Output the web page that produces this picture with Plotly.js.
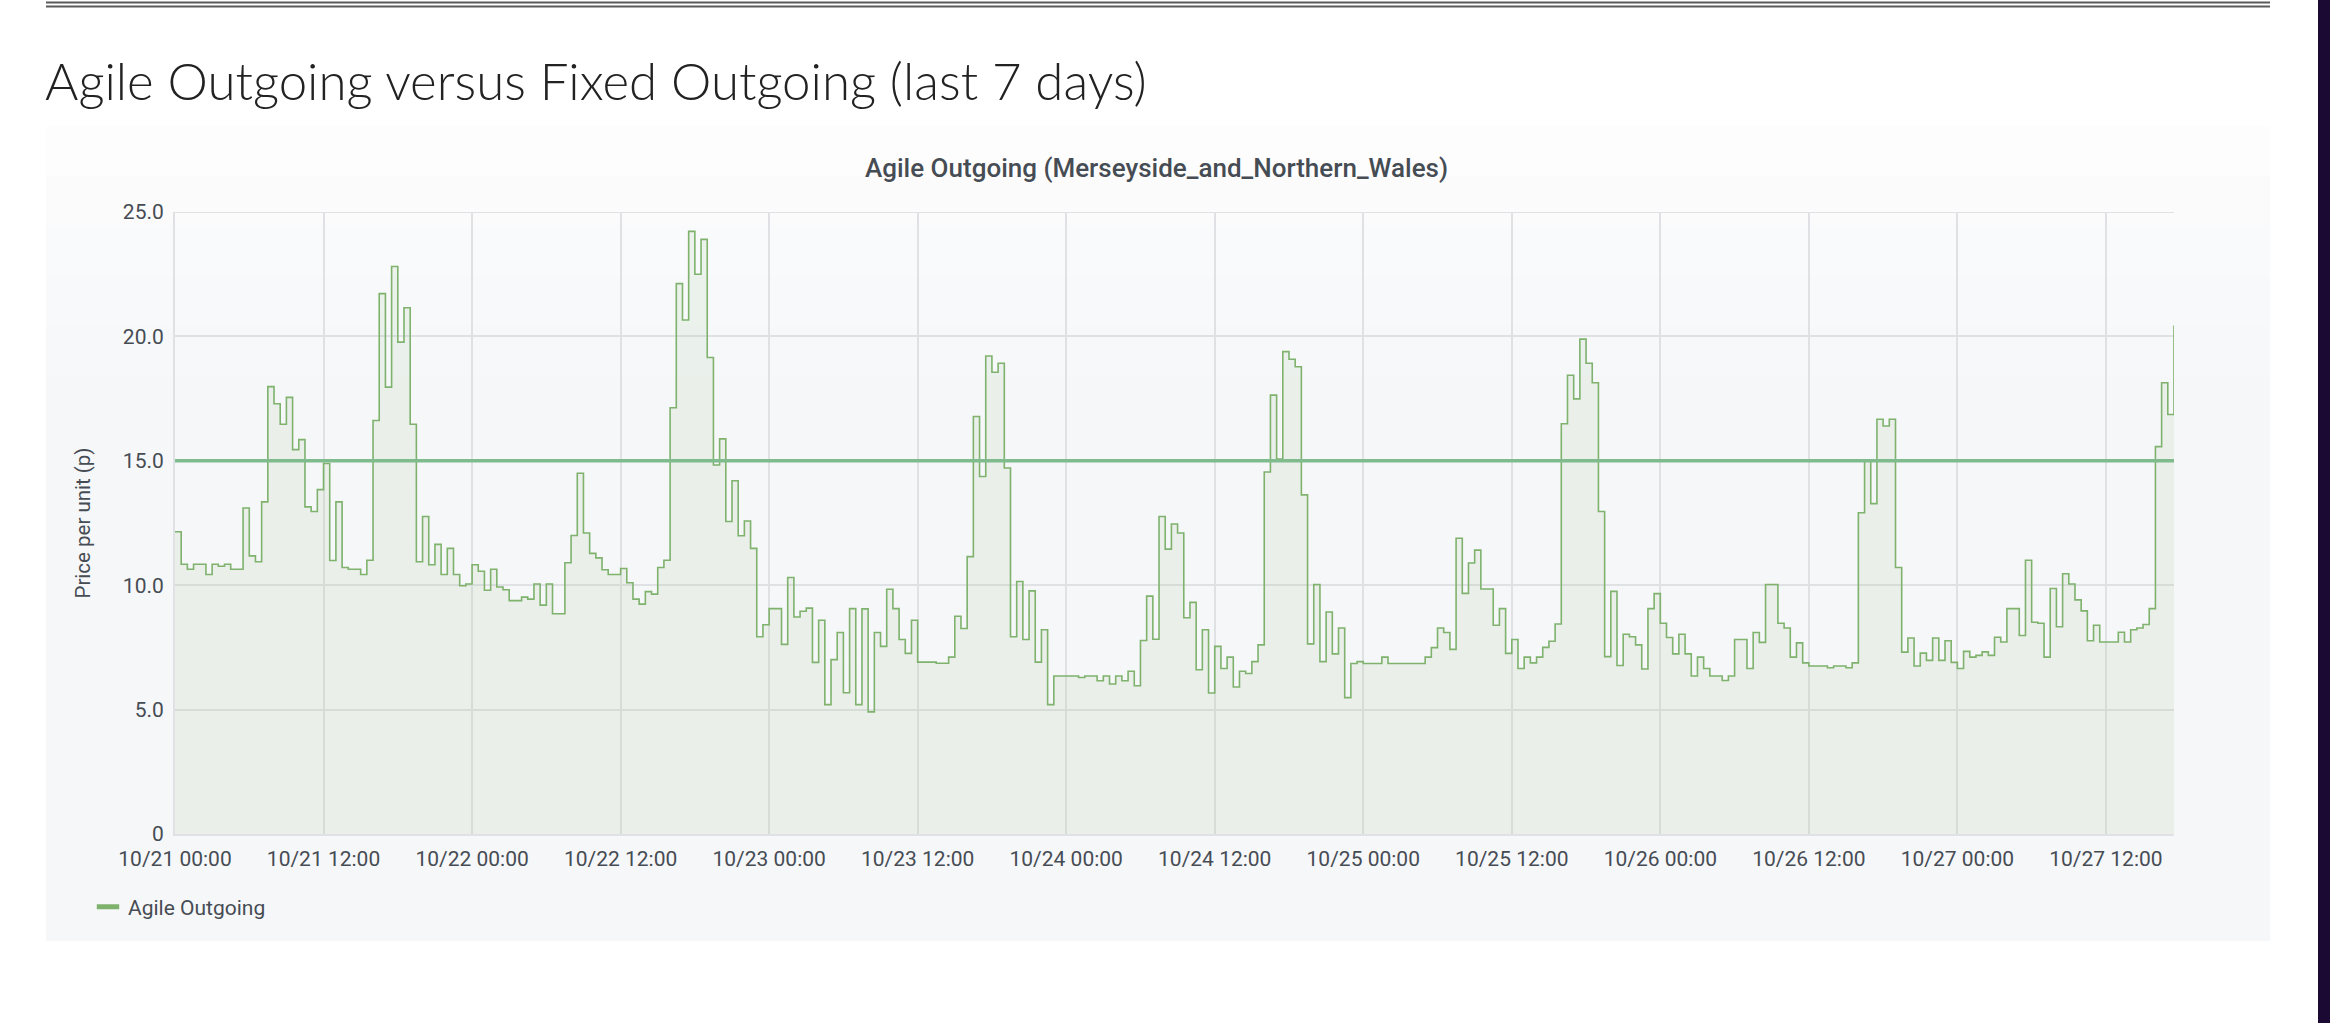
<!DOCTYPE html>
<html>
<head>
<meta charset="utf-8">
<script src="https://cdn.plot.ly/plotly-3.0.1.min.js"></script>
<style>
  html, body { margin: 0; padding: 0; background: #ffffff; }
  #chart { width: 2330px; height: 1023px; }
</style>
</head>
<body>
<div id="chart"></div>
<script>
// ---- data (half-hourly Agile Outgoing price, p per unit) ----
const startTime = '2023-10-21 00:00';
const stepMinutes = 30;
const day1 = [12.15,10.84,10.64,10.84,10.84,10.43,10.84,10.76,10.84,10.64,10.64,13.10,
              11.18,10.94,13.35,17.98,17.29,16.47,17.55,15.45,15.85,13.15,12.96,13.84,
              14.89,10.99,13.35,10.71,10.64,10.64,10.43,11.00,16.62,21.72,17.96,22.81,
              19.77,21.15,16.47,10.94,12.76,10.82,11.64,10.43,11.48,10.43,9.98,10.05];
const day2 = [10.82,10.56,9.80,10.64,9.93,9.82,9.38,9.38,9.52,9.44,10.05,9.20,
              10.05,8.85,8.85,10.90,12.00,14.50,12.10,11.28,11.10,10.62,10.43,10.43,
              10.67,10.10,9.44,9.24,9.74,9.64,10.71,11.00,17.13,22.12,20.66,24.22,
              22.50,23.90,19.15,14.83,15.88,12.56,14.20,11.99,12.58,11.48,7.93,8.41];
const day3 = [9.06,9.06,7.62,10.31,8.72,8.95,9.08,6.90,8.59,5.20,7.01,8.10,
              5.68,9.06,5.20,9.05,4.91,8.10,7.54,9.84,9.06,7.82,7.26,8.59,
              6.91,6.91,6.91,6.86,6.86,7.11,8.75,8.26,11.15,16.78,14.37,19.21,
              18.56,18.92,14.71,7.93,10.15,7.82,9.77,6.91,8.21,5.20,6.35,6.35];
const day4 = [6.35,6.35,6.29,6.35,6.35,6.16,6.35,6.03,6.35,6.16,6.54,5.96,
              7.78,9.56,7.83,12.76,11.45,12.46,12.10,8.69,9.31,6.60,8.21,5.67,
              7.54,6.65,7.11,5.91,6.54,6.45,6.93,7.60,14.55,17.64,15.07,19.39,
              19.08,18.78,13.63,7.64,10.03,6.93,8.92,7.24,8.28,5.48,6.85,6.93];
const day5 = [6.85,6.85,6.85,7.11,6.85,6.85,6.85,6.85,6.85,6.85,7.11,7.49,
              8.28,8.10,7.42,11.89,9.67,10.89,11.41,9.85,9.85,8.39,9.06,7.26,
              7.82,6.65,7.11,6.88,7.11,7.50,7.75,8.44,16.49,18.44,17.49,19.89,
              18.92,18.14,12.96,7.13,9.75,6.77,8.03,7.93,7.60,6.63,9.06,9.66];
const day6 = [8.47,7.90,7.24,8.03,7.24,6.35,7.11,6.65,6.35,6.35,6.17,6.35,
              7.82,7.82,6.65,8.10,7.70,10.03,10.03,8.47,8.28,7.11,7.68,6.88,
              6.75,6.75,6.75,6.68,6.75,6.75,6.68,6.88,12.91,15.04,13.28,16.67,
              16.40,16.67,10.71,7.31,7.88,6.75,7.27,6.98,7.88,6.98,7.77,6.90];
const day7 = [6.65,7.34,7.11,7.18,7.32,7.18,7.91,7.72,9.06,9.06,7.98,11.00,
              8.51,8.47,7.11,9.87,8.33,10.46,10.05,9.41,8.97,7.77,8.39,7.72,
              7.72,7.72,8.11,7.72,8.21,8.28,8.42,9.06,15.57,18.14,16.86,20.44];
const fixedOutgoing = 15.0;
const seriesName = 'Agile Outgoing';
const yTickVals = [0, 5, 10, 15, 20, 25];
const yTickText = ['0', '5.0', '10.0', '15.0', '20.0', '25.0'];

const agile = [].concat(day1, day2, day3, day4, day5, day6, day7);
const t0 = new Date(startTime.replace(' ', 'T') + ':00Z').getTime();
function fmt(ms) {
  const d = new Date(ms);
  const p = n => String(n).padStart(2, '0');
  return d.getUTCFullYear() + '-' + p(d.getUTCMonth() + 1) + '-' + p(d.getUTCDate()) + ' ' + p(d.getUTCHours()) + ':' + p(d.getUTCMinutes());
}
const times = agile.map((_, i) => fmt(t0 + i * stepMinutes * 60000));
const lastTime = times[times.length - 1];

// ---- pixel helpers for decorations ----
const W = 2330, H = 1023;
const L = 175, R = 2174, T = 212, B = 834;
const px = v => (v - L) / (R - L);
const py = v => (B - v) / (B - T);

const gridColor = '#e0e1e4';
const textColor = '#464c54';
const agileColor = '#7eb26d';

const traces = [
  {
    x: times, y: agile, name: seriesName, type: 'scatter', mode: 'lines',
    line: { shape: 'hv', color: agileColor, width: 1.6 },
    fill: 'tozeroy', fillcolor: 'rgba(126,178,109,0.10)',
    showlegend: false, legendgroup: 'agile', hoverinfo: 'skip'
  },
  {
    x: [times[0], lastTime], y: [fixedOutgoing, fixedOutgoing], name: 'Fixed Outgoing',
    type: 'scatter', mode: 'lines', showlegend: false,
    line: { color: '#7fbb8d', width: 3.5 }, hoverinfo: 'skip'
  },
  {
    // legend swatch for the Agile series (thick short bar, Grafana style)
    x: [null], y: [null], name: seriesName, type: 'scatter', mode: 'markers',
    legendgroup: 'agile', showlegend: true,
    marker: { symbol: 'line-ew', size: 16, color: agileColor, line: { color: agileColor, width: 6 } },
    hoverinfo: 'skip'
  }
];

// panel background with a soft vertical gradient near the top
const shapes = [];
const panelTop = 126, panelBot = 941, panelL = 46, panelR = 2270;
const fadeSteps = ['#fdfdfd', '#fbfbfc', '#f9fafb', '#f8f9fa', '#f7f8fa'];
shapes.push({ type: 'rect', xref: 'paper', yref: 'paper', layer: 'below',
  x0: px(panelL), x1: px(panelR), y0: py(panelBot), y1: py(panelTop),
  fillcolor: '#f6f7f9', line: { width: 0 } });
for (let i = 0; i < fadeSteps.length; i++) {
  const a = panelTop + i * 50, b = panelTop + (i + 1) * 50;
  shapes.push({ type: 'rect', xref: 'paper', yref: 'paper', layer: 'below',
    x0: px(panelL), x1: px(panelR), y0: py(b), y1: py(a),
    fillcolor: fadeSteps[i], line: { width: 0 } });
}
// top double rule
shapes.push({ type: 'line', xref: 'paper', yref: 'paper', x0: px(46), x1: px(2270), y0: py(2.5), y1: py(2.5), line: { color: '#5a5a5a', width: 2 } });
shapes.push({ type: 'line', xref: 'paper', yref: 'paper', x0: px(46), x1: px(2270), y0: py(6.5), y1: py(6.5), line: { color: '#5a5a5a', width: 2 } });
// dark strip at right edge
shapes.push({ type: 'rect', xref: 'paper', yref: 'paper', x0: px(2318), x1: px(2331), y0: py(H + 1), y1: py(-1), fillcolor: '#1b0833', line: { width: 0 } });
// top grid line (25.0)
shapes.push({ type: 'line', xref: 'paper', yref: 'y', layer: 'below', x0: 0, x1: 1, y0: 25, y1: 25, line: { color: gridColor, width: 2 } });

const layout = {
  width: W, height: H,
  margin: { l: L, r: W - R, t: T, b: H - B, pad: 0 },
  paper_bgcolor: '#ffffff',
  plot_bgcolor: 'rgba(0,0,0,0)',
  font: { family: 'Roboto, sans-serif', color: textColor, size: 21 },
  title: {
    text: 'Agile Outgoing versus Fixed Outgoing (last 7 days)',
    xref: 'container', yref: 'container', x: 45 / W, xanchor: 'left',
    y: 1 - 82 / H, yanchor: 'middle',
    font: { family: 'Lato, sans-serif', size: 51, weight: 300, color: '#222222' }
  },
  xaxis: {
    type: 'date', range: [times[0], lastTime],
    tick0: times[0], dtick: 12 * 3600 * 1000, tickformat: '%m/%d %H:%M',
    showgrid: true, gridcolor: gridColor, gridwidth: 2,
    showline: true, linecolor: gridColor, linewidth: 2,
    zeroline: false, ticks: '', ticklabelstandoff: 5,
    tickfont: { size: 21, color: textColor }
  },
  yaxis: {
    range: [0, 25], tickvals: yTickVals, ticktext: yTickText,
    showgrid: true, gridcolor: gridColor, gridwidth: 2,
    showline: true, linecolor: gridColor, linewidth: 2,
    zeroline: false, ticks: '', ticklabelstandoff: 5,
    tickfont: { size: 21, color: textColor },
    title: { text: 'Price per unit (p)', font: { size: 20.5, color: textColor }, standoff: 27 }
  },
  showlegend: true,
  legend: {
    orientation: 'h', x: px(88), xanchor: 'left', y: py(907), yanchor: 'middle',
    bgcolor: 'rgba(0,0,0,0)', font: { size: 21, color: textColor },
    itemwidth: 30
  },
  annotations: [
    {
      text: 'Agile Outgoing (Merseyside_and_Northern_Wales)',
      xref: 'paper', yref: 'paper', x: px(1156), y: py(168),
      xanchor: 'center', yanchor: 'middle', showarrow: false,
      font: { family: 'Roboto, sans-serif', size: 26, weight: 500, color: textColor }
    }
  ],
  shapes: shapes,
  hovermode: false
};

Plotly.newPlot('chart', traces, layout, { displayModeBar: false, staticPlot: true });
</script>
</body>
</html>
